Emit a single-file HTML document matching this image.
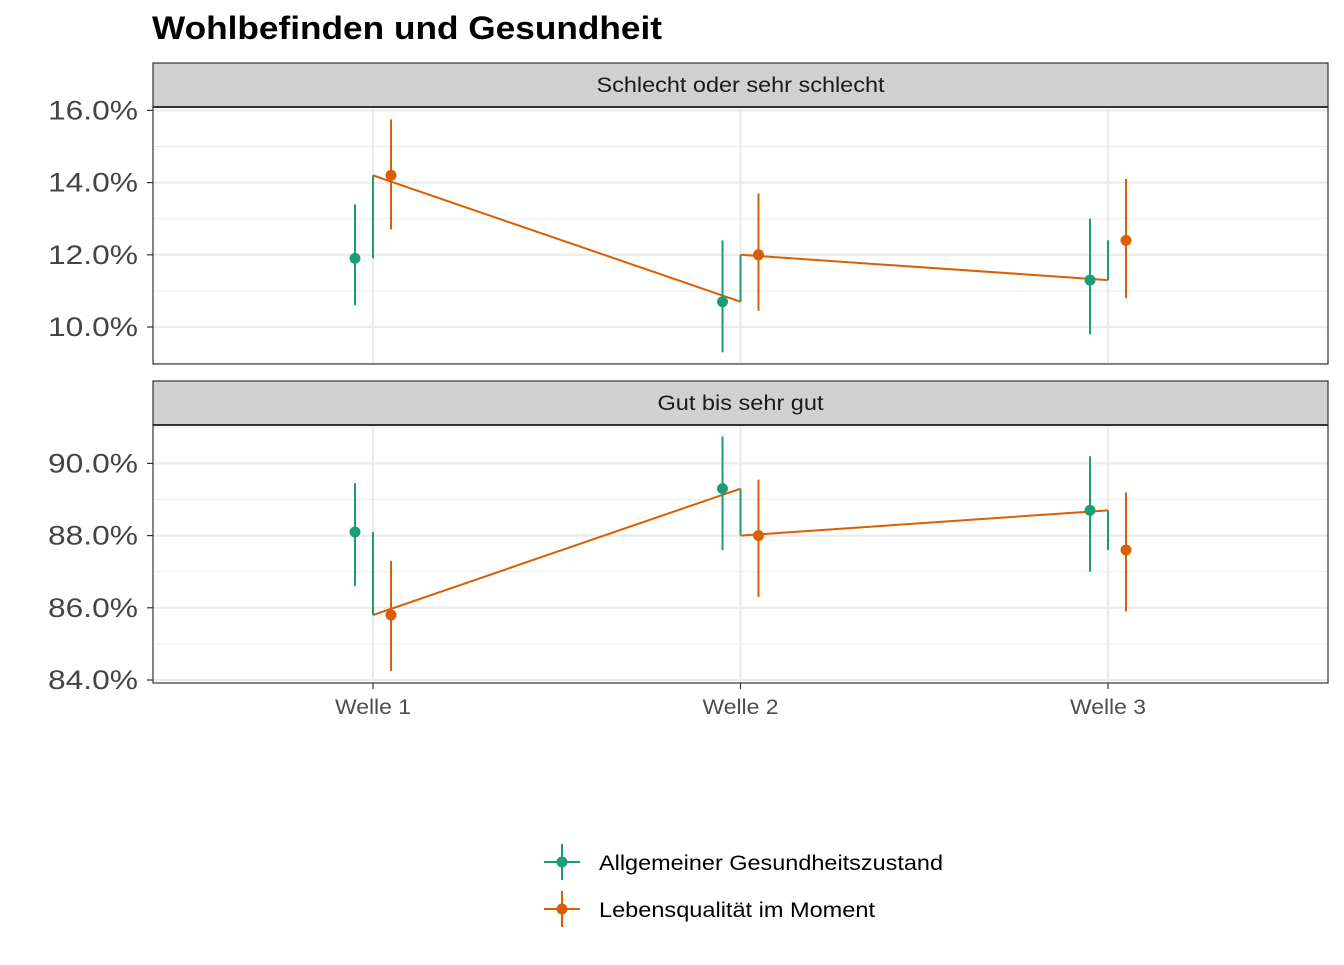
<!DOCTYPE html>
<html><head><meta charset="utf-8"><style>
body{margin:0;background:#fff;font-family:"Liberation Sans",Arial,sans-serif}
</style></head><body>
<svg id="c" width="1344" height="960" xmlns="http://www.w3.org/2000/svg" font-family="Liberation Sans, Arial, sans-serif">
<text x="152" y="39" font-size="32" font-weight="bold" fill="#000" textLength="510" lengthAdjust="spacingAndGlyphs">Wohlbefinden und Gesundheit</text>
</svg>
<script>
const waves=["Welle 1","Welle 2","Welle 3"];
const panels=["Schlecht oder sehr schlecht","Gut bis sehr gut"];
const greenVal=[[11.9,10.7,11.3],[88.1,89.3,88.7]];
const greenLo=[[10.6,9.3,9.8],[86.6,87.6,87.0]];
const greenHi=[[13.4,12.4,13.0],[89.45,90.75,90.2]];
const orangeVal=[[14.2,12.0,12.4],[85.8,88.0,87.6]];
const orangeLo=[[12.7,10.45,10.8],[84.25,86.3,85.9]];
const orangeHi=[[15.75,13.7,14.1],[87.3,89.55,89.2]];
const yTicks=[[10,12,14,16],[84,86,88,90]];
const yMinor=[[9,11,13,15],[85,87,89,91]];
const seriesNames=["Allgemeiner Gesundheitszustand","Lebensqualität im Moment"];
const legendWidths=[344,276];
const stripWidths=[288,166];

const svg=document.getElementById('c');
const NS="http://www.w3.org/2000/svg";
const G="#1b9e77",O="#d95f02";
function el(t,a,p){const e=document.createElementNS(NS,t);for(const k in a)e.setAttribute(k,a[k]);(p||svg).appendChild(e);return e;}
const px0=153,px1=1328;
const xs=i=>373+i*367.5;
const P=[{stripTop:63,top:107,bot:364,v0:10,y0:327},{stripTop:381,top:425,bot:683,v0:84,y0:680}];
const ppu=36.1;
P.forEach((p,k)=>{
  const y=v=>p.y0-(v-p.v0)*ppu;
  const bg=el('rect',{x:px0,y:p.top,width:px1-px0,height:p.bot-p.top,fill:'#fff'});
  
  
  yMinor[k].forEach(v=>{if(y(v)>p.top&&y(v)<p.bot){const l=el('line',{x1:px0,x2:px1,y1:y(v),y2:y(v),stroke:'#ebebeb','stroke-width':1});}});
  yTicks[k].forEach(v=>{const l=el('line',{x1:px0,x2:px1,y1:y(v),y2:y(v),stroke:'#ebebeb','stroke-width':2.2});
    const tk=el('line',{x1:px0-6,x2:px0,y1:y(v),y2:y(v),stroke:'#333','stroke-width':1.2});
    const t=el('text',{x:px0-15,y:y(v)+9,'font-size':27,fill:'#444','text-anchor':'end',textLength:90,lengthAdjust:'spacingAndGlyphs'});t.textContent=v.toFixed(1)+'%';});
  waves.forEach((w,i)=>{const l=el('line',{x1:xs(i),x2:xs(i),y1:p.top,y2:p.bot,stroke:'#ebebeb','stroke-width':2.2});});
  for(let i=0;i<3;i++){
    const a=el('line',{x1:xs(i),x2:xs(i),y1:y(greenVal[k][i]),y2:y(orangeVal[k][i]),stroke:G,'stroke-width':2});
    
    if(i<2){const b=el('line',{x1:xs(i),x2:xs(i+1),y1:y(orangeVal[k][i]),y2:y(greenVal[k][i+1]),stroke:O,'stroke-width':2});
      }
  }
  for(let i=0;i<3;i++){
    [[G,greenVal,greenLo,greenHi,-18,'green'],[O,orangeVal,orangeLo,orangeHi,18,'orange']].forEach(s=>{
      const x=xs(i)+s[4];
      const e=el('line',{x1:x,x2:x,y1:y(s[2][k][i]),y2:y(s[3][k][i]),stroke:s[0],'stroke-width':2});
      
      const c=el('circle',{cx:x,cy:y(s[1][k][i]),r:5.5,fill:s[0]});
      
    });
  }
  const fr=el('rect',{x:px0,y:p.top,width:px1-px0,height:p.bot-p.top,fill:'none',stroke:'#333','stroke-width':1.2});
  
  const st=el('rect',{x:px0,y:p.stripTop,width:px1-px0,height:p.top-p.stripTop,fill:'#d1d1d1',stroke:'#333','stroke-width':1.2});
  
  const sl=el('line',{x1:px0,x2:px1,y1:p.top,y2:p.top,stroke:'#333','stroke-width':2});
  
  const stt=el('text',{x:(px0+px1)/2,y:p.stripTop+29,'font-size':21,fill:'#1a1a1a','text-anchor':'middle',textLength:stripWidths[k],lengthAdjust:'spacingAndGlyphs'});
  stt.textContent=panels[k];
});
waves.forEach((w,i)=>{
  const tk=el('line',{x1:xs(i),x2:xs(i),y1:683,y2:689,stroke:'#333','stroke-width':1.2});
  const t=el('text',{x:xs(i),y:714,'font-size':21,fill:'#4d4d4d','text-anchor':'middle',textLength:76,lengthAdjust:'spacingAndGlyphs'});t.textContent=w;
});
[[G,862],[O,909]].forEach((s,j)=>{
  const g=el('g',{});
  el('line',{x1:544,x2:580,y1:s[1],y2:s[1],stroke:s[0],'stroke-width':2},g);
  el('line',{x1:562,x2:562,y1:s[1]-18,y2:s[1]+18,stroke:s[0],'stroke-width':2},g);
  el('circle',{cx:562,cy:s[1],r:5.5,fill:s[0]},g);
  const t=el('text',{x:599,y:s[1]+8,'font-size':21,fill:'#000',textLength:legendWidths[j],lengthAdjust:'spacingAndGlyphs'},g);t.textContent=seriesNames[j];
});
</script>
</body></html>
